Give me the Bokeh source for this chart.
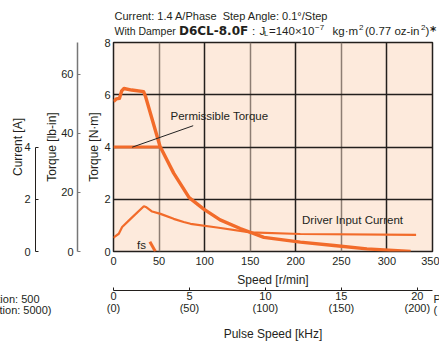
from bokeh.plotting import figure
from bokeh.models import Range1d, LinearAxis, FixedTicker, Grid
from bokeh.core.properties import value
from bokeh.embed import file_html
from bokeh.resources import INLINE

# ---------------- data ----------------
speed_pullout = [0, 3, 6.5, 9, 11.5, 20, 33, 35, 51, 66, 83, 99, 117, 139, 165, 205, 242, 278, 326]
torque_pullout = [5.74, 5.84, 5.86, 6.15, 6.24, 6.18, 6.12, 5.95, 4.03, 3.0, 2.06, 1.62, 1.21, 0.88, 0.54, 0.36, 0.23, 0.10, 0.0]

speed_permissible = [0, 51]
torque_permissible = [4.0, 4.0]

speed_current = [0, 1, 5.8, 9.5, 18.7, 33.3, 36.2, 42.4, 51.6, 66, 77, 84.5, 113.6, 150, 205, 332]
current_a = [0.52, 0.56, 0.68, 0.94, 1.25, 1.73, 1.69, 1.53, 1.44, 1.25, 1.13, 1.06, 0.92, 0.73, 0.67, 0.64]

speed_fs = [39.9, 46]
torque_fs = [0.37, 0.0]

speed_ticks = [0, 50, 100, 150, 200, 250, 300, 350]
nm_ticks = [0, 2, 4, 6, 8]
lbin_ticks = [0, 20, 40, 60]
current_ticks = [0, 2, 4]
pulse_ticks = [0, 5, 10, 15, 20]
pulse_labels = ["0\n(0)", "5\n(50)", "10\n(100)", "15\n(150)", "20\n(200)"]

NM_TO_LBIN = 8.85
PULSE_MAX = 21.0  # kHz at 350 r/min

FONT = "Liberation Sans"
BG = "#FDEADC"
ORANGE = "#F26B2A"
DARK = "#231f1c"
BROWN = "#8d7d73"
TXT = "#231f20"

p = figure(width=439, height=343, output_backend="svg", toolbar_location=None,
           x_range=Range1d(0, 350), y_range=Range1d(0, 8),
           min_border_left=113, min_border_right=7, min_border_top=42, min_border_bottom=90)
p.background_fill_color = BG
p.border_fill_color = "white"
p.outline_line_color = DARK
p.outline_line_width = 1.5
p.grid.visible = False

# gridlines
p.add_layout(Grid(dimension=0, ticker=FixedTicker(ticks=[100, 200, 300]),
                  grid_line_color=DARK, grid_line_width=1.5))
p.add_layout(Grid(dimension=0, ticker=FixedTicker(ticks=[50, 150, 250]),
                  grid_line_color=BROWN, grid_line_width=1.5))
p.add_layout(Grid(dimension=1, ticker=FixedTicker(ticks=[2, 4, 6]),
                  grid_line_color=DARK, grid_line_width=1.5))

def style_axis(ax, tick_size="11px", label_size="12px"):
    ax.major_label_text_font = FONT
    ax.major_label_text_font_size = tick_size
    ax.major_label_text_color = TXT
    ax.axis_label_text_font = FONT
    ax.axis_label_text_font_size = label_size
    ax.axis_label_text_font_style = "normal"
    ax.axis_label_text_color = TXT
    ax.minor_tick_line_color = None

def spacer(width):
    return LinearAxis(ticker=FixedTicker(ticks=[]), axis_line_color=None,
                      major_tick_line_color=None, minor_tick_line_color=None,
                      major_label_standoff=0, axis_label=" ",
                      axis_label_text_font_size="1px", axis_label_standoff=width)

# main y axis (N·m)
ya = p.yaxis[0]
ya.ticker = FixedTicker(ticks=nm_ticks)
ya.axis_label = "Torque [N·m]"
style_axis(ya)
ya.axis_line_color = None
ya.major_tick_line_color = None
ya.major_label_standoff = -3
ya.axis_label_standoff = 0

p.add_layout(spacer(3), "left")

p.extra_y_ranges = {"lbin": Range1d(0, 8 * NM_TO_LBIN), "cur": Range1d(0, 8)}
ax_lb = LinearAxis(y_range_name="lbin", ticker=FixedTicker(ticks=lbin_ticks),
                   axis_label="Torque [lb-in]")
style_axis(ax_lb)
ax_lb.axis_line_color = "#777777"
ax_lb.axis_line_width = 1.5
ax_lb.major_tick_line_color = "#777777"
ax_lb.major_tick_in = 3
ax_lb.major_tick_out = 0
ax_lb.major_label_standoff = 4
ax_lb.axis_label_standoff = -1
p.add_layout(ax_lb, "left")

p.add_layout(spacer(3), "left")

ax_cur = LinearAxis(y_range_name="cur", ticker=FixedTicker(ticks=current_ticks),
                    axis_label="Current [A]", bounds=(0, 4))
style_axis(ax_cur)
ax_cur.axis_line_color = DARK
ax_cur.major_tick_line_color = DARK
ax_cur.major_tick_in = 3
ax_cur.major_tick_out = 0
ax_cur.major_label_standoff = 5
ax_cur.axis_label_standoff = -4
p.add_layout(ax_cur, "left")

# speed axis
xa = p.xaxis[0]
xa.ticker = FixedTicker(ticks=speed_ticks)
xa.axis_label = "Speed [r/min]"
style_axis(xa)
xa.axis_line_color = None
xa.major_tick_line_color = None
xa.major_label_standoff = -1
xa.axis_label_standoff = 5

p.add_layout(spacer(-3), "below")

p.extra_x_ranges = {"pulse": Range1d(0, PULSE_MAX)}
ax_p = LinearAxis(x_range_name="pulse", ticker=FixedTicker(ticks=pulse_ticks),
                  axis_label="Pulse Speed [kHz]",
                  major_label_overrides={t: s for t, s in zip(pulse_ticks, pulse_labels)})
style_axis(ax_p)
ax_p.major_label_text_line_height = 1.0
ax_p.axis_line_color = DARK
ax_p.major_tick_line_color = DARK
ax_p.major_tick_in = 3
ax_p.major_tick_out = 0
ax_p.major_label_standoff = -1
ax_p.axis_label_standoff = 10
p.add_layout(ax_p, "below")

# curves
p.line(speed_current, current_a, line_color=ORANGE, line_width=2.2)
p.line(speed_permissible, torque_permissible, line_color=ORANGE, line_width=3.2)
p.line(speed_pullout, torque_pullout, line_color=ORANGE, line_width=3.4, line_join="round")
p.line(speed_fs, torque_fs, line_color=ORANGE, line_width=3)

# page pixel -> data coords (frame: x 113..432, y 42..253)
def d(px, py):
    return (px - 113) / 319 * 350, (253 - py) / 211 * 8

x0, y0 = d(131.7, 147.7)
x1, y1 = d(192.7, 126)
p.line([x0, x1], [y0, y1], line_color="#222222", line_width=1)

def lab(text, px, py, size="11.5px", font=FONT, style="normal", align="left"):
    x, y = d(px, py)
    p.text(x=[x], y=[y], text=[text], text_font=value(font), text_font_size=size,
           text_font_style=style, text_align=align, text_baseline="middle",
           text_color=TXT, level="overlay")

lab("Permissible Torque", 170, 116)
lab("Driver Input Current", 301.5, 221)
lab("fs", 136.5, 246.5)

# title lines
lab("Current: 1.4 A/Phase\u00a0 Step Angle: 0.1\u00b0/Step", 114, 15, size="11px")
lab("With Damper", 114, 30.5, size="10.5px")
lab("D6CL-8.0F", 178.5, 30.5, size="12px", font="DejaVu Sans", style="bold")
lab(":", 251.5, 30.5)
lab("J", 259, 30.5)
lab("L", 263.5, 32.5, size="7.5px")
lab("=140\u00d710", 268.5, 30.5)
lab("\u22127", 314.5, 27, size="8px")
lab("kg\u00b7m", 332, 30.5)
lab("2", 358.5, 27, size="8px")
lab("(0.77 oz-in", 364.5, 30.5)
lab("2", 420.5, 27, size="8px")
lab(")", 425, 30.5)
lab("*", 429.5, 30, size="12px", font="DejaVu Sans", style="bold")

# side notes (partly cut off in the reference)
lab("Resolution: 500", 39, 300.5, size="11px", align="right")
lab("(Resolution: 5000)", 51, 312.5, size="11px", align="right")
lab("Pulse", 433, 300.5, size="11px")
lab("(", 433, 312.5, size="11px")

open("out.html", "w").write(file_html(p, INLINE))
